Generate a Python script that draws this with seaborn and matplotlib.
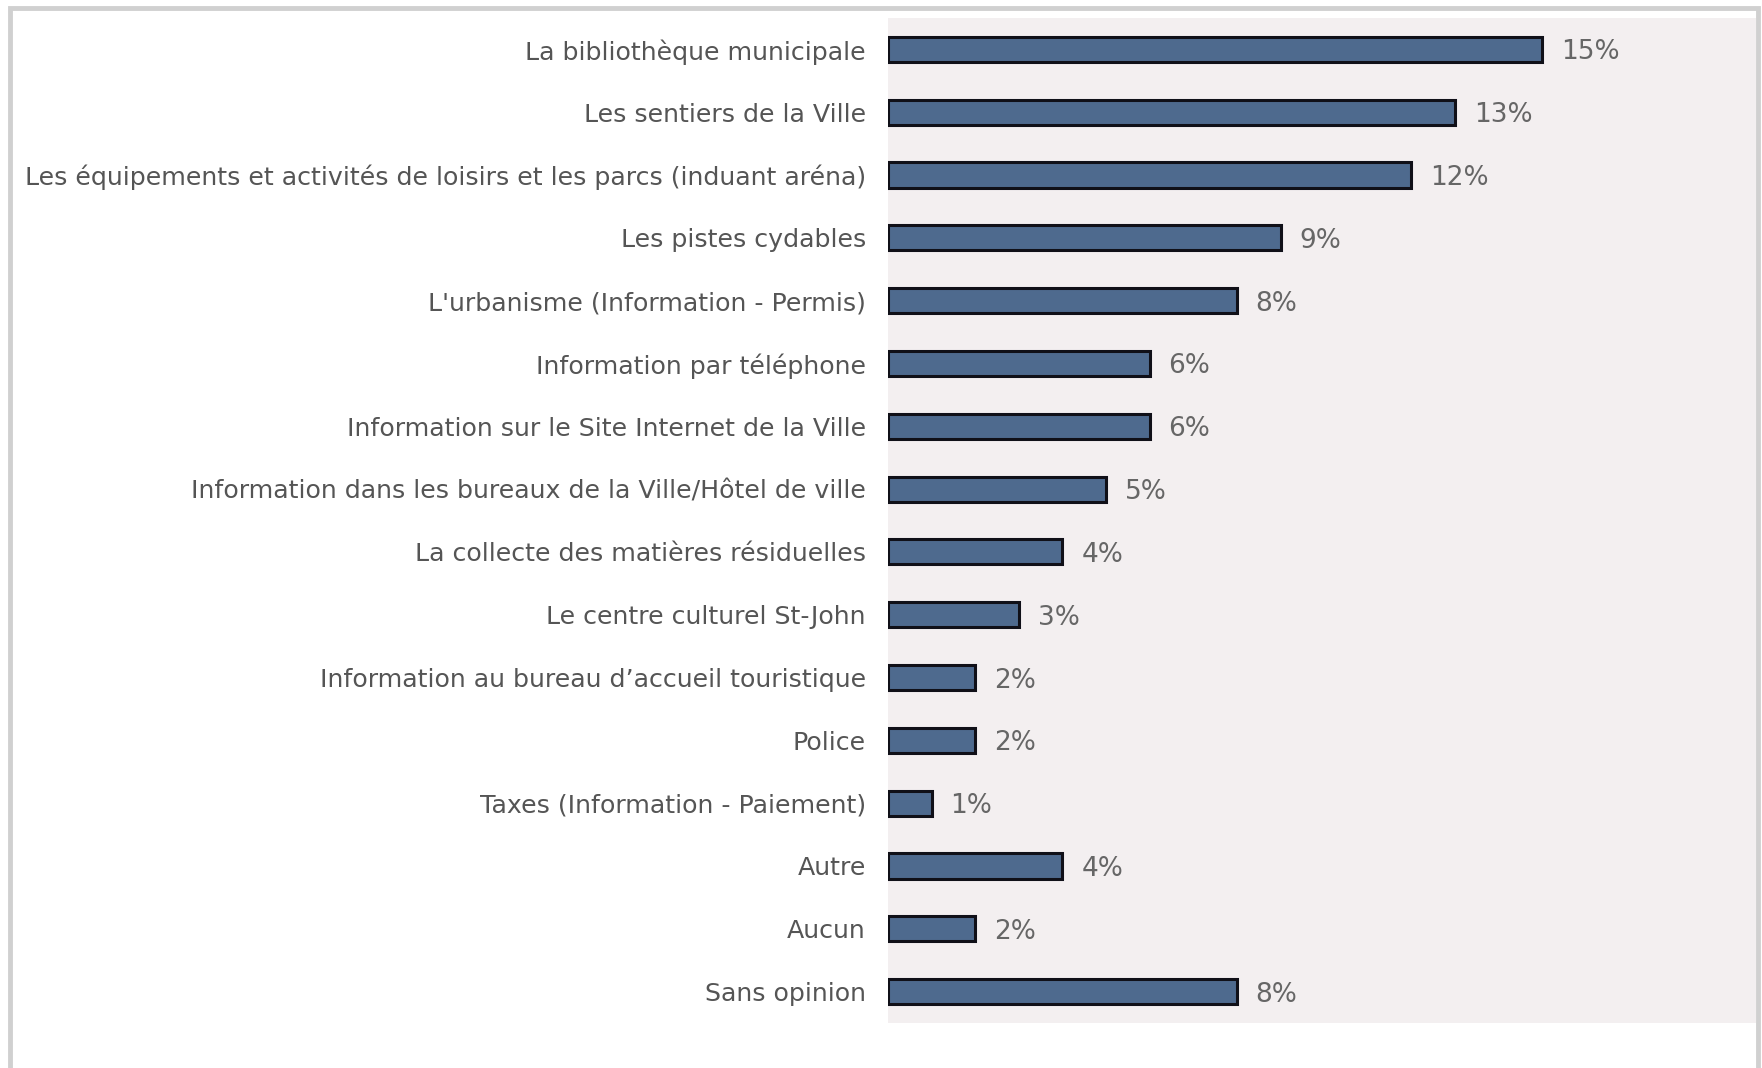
import matplotlib
matplotlib.use("Agg")
import matplotlib.pyplot as plt
import seaborn as sns
import pandas as pd
from matplotlib.patches import Rectangle

categories = [
    "La bibliothèque municipale",
    "Les sentiers de la Ville",
    "Les équipements et activités de loisirs et les parcs (induant aréna)",
    "Les pistes cydables",
    "L'urbanisme (Information - Permis)",
    "Information par téléphone",
    "Information sur le Site Internet de la Ville",
    "Information dans les bureaux de la Ville/Hôtel de ville",
    "La collecte des matières résiduelles",
    "Le centre culturel St-John",
    "Information au bureau d\u2019accueil touristique",
    "Police",
    "Taxes (Information - Paiement)",
    "Autre",
    "Aucun",
    "Sans opinion",
]
values = [15, 13, 12, 9, 8, 6, 6, 5, 4, 3, 2, 2, 1, 4, 2, 8]
value_labels = [f"{v}%" for v in values]

df = pd.DataFrame({"cat": categories, "val": values})

sns.set_theme(style="white")
plt.rcParams["font.family"] = ["DejaVu Sans"]

fig = plt.figure(figsize=(17.62, 10.68), dpi=100)
ax = fig.add_axes([888 / 1762, 1 - 1023 / 1068, (1756 - 888) / 1762, (1023 - 18) / 1068])

sns.barplot(data=df, x="val", y="cat", orient="h", color="#4e6a8e",
            saturation=1, edgecolor="#101018", linewidth=2.2, width=0.4, ax=ax)

ax.set_facecolor("#f3eff0")
ax.set_xlim(0, 19.9)
ax.set_ylim(len(categories) - 0.5, -0.5)
ax.set_xlabel("")
ax.set_ylabel("")
ax.set_xticks([])
for s in ax.spines.values():
    s.set_visible(False)
ax.tick_params(axis="y", length=0, pad=16, labelsize=18.2, labelcolor="#555555")

for i, (v, lab) in enumerate(zip(values, value_labels)):
    ax.annotate(lab, (v, i), xytext=(13.5, 0), textcoords="offset points",
                va="center_baseline", ha="left", fontsize=19, color="#666666")

# outer frame
fig.patches.append(Rectangle((10 / 1762, -0.1), (1758 - 10) / 1762, 1.1 - 8 / 1068,
                             transform=fig.transFigure, fill=False,
                             edgecolor="#d0d0d0", linewidth=3.5, zorder=0))

fig.savefig("out.png", dpi=100, facecolor="white")
